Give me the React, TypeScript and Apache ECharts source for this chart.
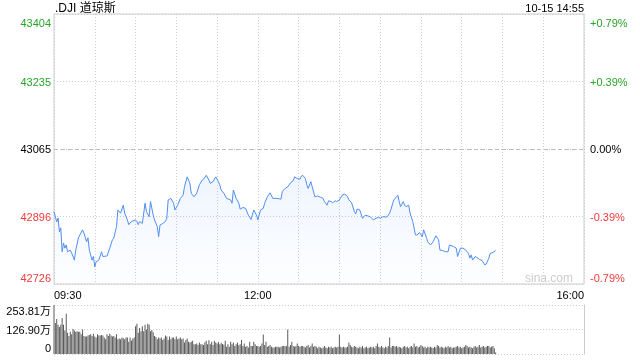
import React, { useEffect, useRef } from "react";
import * as echarts from "echarts";

const TITLE = ".DJI 道琼斯";
const DATE_TIME = "10-15 14:55";
const WATERMARK = "sina.com";
const PREV_CLOSE = 43065;
const PRICE_LOW = 42726;
const PRICE_HIGH = 43404;
const VOL_MAX = 253.81; // 万

const X_TICK_MINUTES = [0, 150, 390];
const X_TICK_LABELS = ["09:30", "12:00", "16:00"];
const PRICE_TICKS = ["42726", "42896", "43065", "43235", "43404"];
const PCT_TICKS = ["-0.79%", "-0.39%", "0.00%", "+0.39%", "+0.79%"];
const VOL_TICKS = ["0", "126.90万", "253.81万"];

// minutes since 09:30
const TIMES = [
  0, 2, 3, 4, 5, 6, 7, 8, 9, 10,
  12, 13, 15, 16, 18, 19, 21, 22, 24, 25,
  26, 28, 29, 30, 31, 33, 35, 36, 38, 39,
  41, 43, 44, 46, 47, 49, 51, 52, 54, 55,
  57, 60, 61, 62, 63, 65, 67, 68, 70, 71,
  73, 74, 76, 77, 78, 80, 82, 83, 84, 86,
  88, 89, 91, 93, 95, 96, 98, 100, 101, 103,
  105, 107, 109, 110, 112, 114, 115, 117, 119, 121,
  122, 123, 125, 127, 130, 131, 132, 134, 136, 137,
  139, 141, 143, 145, 147, 149, 150, 152, 154, 155,
  157, 159, 161, 164, 167, 168, 170, 172, 173, 174,
  176, 177, 179, 181, 182, 183, 185, 186, 187, 189,
  190, 192, 194, 196, 198, 199, 201, 202, 204, 205,
  207, 208, 210, 212, 214, 216, 217, 219, 221, 222,
  223, 225, 227, 229, 231, 233, 235, 237, 239, 240,
  242, 245, 247, 248, 250, 252, 253, 254, 255, 257,
  258, 259, 261, 262, 264, 266, 267, 269, 271, 272,
  274, 275, 277, 279, 281, 283, 284, 286, 288, 290,
  291, 294, 296, 297, 299, 301, 303, 305, 306, 307,
  308, 310, 311, 313, 315, 317, 318, 320, 321, 323,
  325,
];

const PRICES = [
  42908, 42882, 42892, 42857, 42867, 42807, 42829, 42816, 42824, 42807,
  42811, 42804, 42786, 42811, 42842, 42849, 42862, 42854, 42832, 42842,
  42811, 42786, 42795, 42769, 42782, 42786, 42807, 42795, 42796, 42796,
  42816, 42837, 42841, 42870, 42912, 42904, 42924, 42904, 42887, 42875,
  42883, 42887, 42883, 42875, 42883, 42878, 42929, 42908, 42895, 42933,
  42899, 42887, 42870, 42845, 42874, 42878, 42883, 42891, 42937, 42941,
  42929, 42912, 42924, 42941, 42949, 42970, 42995, 42979, 42954, 42945,
  42954, 42975, 42987, 42989, 42999, 42987, 42979, 42983, 42995, 42983,
  42975, 42962, 42954, 42941, 42937, 42929, 42962, 42941, 42929, 42914,
  42918, 42916, 42899, 42888, 42912, 42899, 42887, 42912, 42916, 42929,
  42945, 42955, 42941, 42941, 42939, 42958, 42966, 42970, 42975, 42980,
  42985, 42995, 42991, 42989, 42997, 42999, 42991, 42975, 42966, 42983,
  42970, 42945, 42947, 42944, 42941, 42933, 42924, 42935, 42933, 42930,
  42935, 42933, 42937, 42949, 42952, 42945, 42937, 42930, 42908, 42902,
  42914, 42912, 42891, 42899, 42897, 42894, 42887, 42891, 42894, 42891,
  42895, 42894, 42904, 42914, 42937, 42945, 42949, 42933, 42920, 42933,
  42924, 42920, 42924, 42904, 42883, 42849, 42849, 42855, 42845, 42862,
  42843, 42832, 42824, 42832, 42847, 42837, 42811, 42810, 42807, 42807,
  42824, 42820, 42816, 42795, 42816, 42816, 42811, 42803, 42791, 42799,
  42786, 42795, 42793, 42788, 42785, 42774, 42776, 42791, 42803, 42805,
  42810,
];

// volume per minute (万), index = minutes since 09:30
const VOLUMES = [
  254, 161, 181, 152, 140, 152, 186, 152, 122, 208,
  110, 93, 115, 102, 130, 122, 115, 118, 115, 115,
  102, 127, 93, 90, 90, 96, 98, 102, 93, 105,
  90, 85, 102, 96, 96, 99, 96, 85, 76, 102,
  93, 105, 96, 90, 93, 85, 102, 76, 80, 76,
  85, 82, 76, 85, 85, 63, 85, 70, 80, 85,
  144, 157, 110, 135, 118, 144, 118, 152, 127, 157,
  152, 118, 124, 113, 93, 88, 76, 85, 80, 85,
  73, 80, 96, 90, 73, 90, 76, 85, 85, 76,
  90, 76, 80, 85, 76, 80, 59, 73, 80, 63,
  59, 63, 68, 51, 51, 54, 46, 59, 51, 51,
  47, 59, 68, 51, 71, 51, 63, 46, 68, 60,
  55, 62, 50, 58, 52, 48, 68, 37, 51, 37,
  64, 51, 59, 42, 51, 59, 45, 51, 73, 42,
  54, 37, 42, 34, 64, 42, 42, 64, 51, 42,
  42, 37, 42, 54, 101, 47, 64, 37, 42, 47,
  37, 34, 34, 37, 37, 37, 34, 37, 42, 42,
  40, 42, 127, 37, 47, 64, 42, 37, 42, 54,
  42, 37, 42, 42, 37, 34, 42, 47, 34, 42,
  54, 37, 42, 37, 30, 37, 34, 30, 34, 42,
  34, 30, 37, 34, 37, 30, 34, 37, 34, 37,
  101, 37, 34, 37, 34, 34, 37, 59, 47, 37,
  34, 42, 37, 34, 30, 37, 34, 42, 30, 34,
  37, 30, 34, 37, 34, 37, 30, 42, 54, 37,
  34, 42, 34, 30, 37, 34, 42, 85, 34, 42,
  42, 37, 42, 34, 37, 34, 30, 37, 42, 34,
  37, 30, 37, 42, 34, 54, 37, 42, 34, 37,
  47, 42, 34, 37, 30, 37, 34, 37, 34, 30,
  37, 34, 47, 42, 34, 37, 34, 30, 37, 34,
  42, 34, 37, 30, 34, 34, 37, 42, 34, 37,
  30, 34, 37, 47, 42, 34, 37, 34, 30, 37,
  42, 34, 37, 47, 34, 37, 42, 34, 37, 42,
  42, 34, 37, 42, 30, 8,
];

const GREEN = "#28a428";
const RED = "#f03a3a";
const FONT = '"Liberation Sans", Arial, "Noto Sans CJK SC", sans-serif';

export default function App() {
  const ref = useRef<HTMLDivElement>(null);

  useEffect(() => {
    if (!ref.current) return;
    const chart = echarts.init(ref.current, null, { renderer: "svg" });

    const yMin = PRICE_LOW - PREV_CLOSE;
    const yMax = PRICE_HIGH - PREV_CLOSE;
    const yInt = (yMax - yMin) / 4;
    const volInt = VOL_MAX / 2;
    const priceKeys = ["b", "r", "k", "g", "t"];
    const volKeys = ["b", "k", "t"];

    const lineData = TIMES.map((t, i) => [t, PRICES[i] - PREV_CLOSE]);
    const volData = VOLUMES.map((v, i) => [i, v]);

    const dotted = { color: "#cfcfcf", type: [1, 2] as any, width: 1 };

    const option: any = {
      animation: false,
      textStyle: { fontFamily: FONT },
      grid: [
        { left: 54, top: 14, width: 530, height: 270, show: true, borderColor: "#cccccc", borderWidth: 1 },
        { left: 54, top: 305, width: 530, height: 49 },
      ],
      xAxis: [
        {
          gridIndex: 0,
          type: "value",
          min: 0,
          max: 390,
          interval: 30,
          axisLine: { show: false },
          axisTick: { show: false },
          splitLine: { show: true, lineStyle: dotted },
          axisLabel: {
            show: true,
            margin: 5,
            fontSize: 11,
            fontFamily: FONT,
            color: "#000",
            hideOverlap: false,
            showMinLabel: true,
            showMaxLabel: true,
            alignMinLabel: "left",
            alignMaxLabel: "right",
            formatter: (v: number) => {
              const idx = X_TICK_MINUTES.indexOf(Math.round(v));
              return idx >= 0 ? X_TICK_LABELS[idx] : "";
            },
          },
        },
        {
          gridIndex: 1,
          type: "value",
          min: 0,
          max: 390,
          interval: 30,
          axisLine: { show: false },
          axisTick: { show: false },
          splitLine: { show: false },
          axisLabel: { show: false },
        },
      ],
      yAxis: [
        {
          gridIndex: 0,
          type: "value",
          position: "left",
          min: yMin,
          max: yMax,
          interval: yInt,
          axisLine: { show: false },
          axisTick: { show: false },
          splitLine: { show: true, lineStyle: dotted },
          axisLabel: {
            margin: 3,
            fontSize: 11,
            fontFamily: FONT,
            formatter: (v: number) => {
              const i = Math.round((v - yMin) / yInt);
              return `{${priceKeys[i]}|${PRICE_TICKS[i]}}`;
            },
            rich: {
              b: { color: RED, fontSize: 11, fontFamily: FONT, padding: [0, 0, 13, 0] },
              r: { color: RED, fontSize: 11, fontFamily: FONT },
              k: { color: "#000", fontSize: 11, fontFamily: FONT },
              g: { color: GREEN, fontSize: 11, fontFamily: FONT },
              t: { color: GREEN, fontSize: 11, fontFamily: FONT, padding: [17, 0, 0, 0] },
            },
          },
        },
        {
          gridIndex: 0,
          type: "value",
          position: "right",
          min: yMin,
          max: yMax,
          interval: yInt,
          axisLine: { show: false },
          axisTick: { show: false },
          splitLine: { show: false },
          axisLabel: {
            margin: 6,
            fontSize: 11,
            fontFamily: FONT,
            formatter: (v: number) => {
              const i = Math.round((v - yMin) / yInt);
              return `{${priceKeys[i]}|${PCT_TICKS[i]}}`;
            },
            rich: {
              b: { color: RED, fontSize: 11, fontFamily: FONT, padding: [0, 0, 13, 0] },
              r: { color: RED, fontSize: 11, fontFamily: FONT },
              k: { color: "#000", fontSize: 11, fontFamily: FONT },
              g: { color: GREEN, fontSize: 11, fontFamily: FONT },
              t: { color: GREEN, fontSize: 11, fontFamily: FONT, padding: [17, 0, 0, 0] },
            },
          },
        },
        {
          gridIndex: 1,
          type: "value",
          position: "left",
          min: 0,
          max: VOL_MAX,
          interval: volInt,
          axisLine: { show: false },
          axisTick: { show: false },
          splitLine: { show: true, lineStyle: dotted },
          axisLabel: {
            margin: 3,
            fontSize: 11,
            fontFamily: FONT,
            formatter: (v: number) => {
              const i = Math.round(v / volInt);
              return `{${volKeys[i]}|${VOL_TICKS[i]}}`;
            },
            rich: {
              b: { color: "#000", fontSize: 11, fontFamily: FONT, padding: [0, 0, 12, 0] },
              k: { color: "#000", fontSize: 11, fontFamily: FONT },
              t: { color: "#000", fontSize: 11, fontFamily: FONT, padding: [12, 0, 0, 0] },
            },
          },
        },
        {
          gridIndex: 1,
          type: "value",
          position: "right",
          min: 0,
          max: VOL_MAX,
          interval: volInt,
          axisLine: { show: true, lineStyle: { color: "#cccccc", width: 1 } },
          axisTick: { show: false },
          splitLine: { show: false },
          axisLabel: { show: false },
        },
      ],
      series: [
        {
          type: "line",
          xAxisIndex: 0,
          yAxisIndex: 0,
          data: lineData,
          showSymbol: false,
          symbol: "none",
          lineStyle: { color: "#4f8ef5", width: 1 },
          areaStyle: {
            origin: "start",
            color: new echarts.graphic.LinearGradient(0, 0, 0, 1, [
              { offset: 0, color: "rgba(79,142,245,0.13)" },
              { offset: 1, color: "rgba(79,142,245,0.01)" },
            ]),
          },
          markLine: {
            silent: true,
            symbol: "none",
            label: { show: false },
            lineStyle: { color: "#bbbbbb", type: [4, 3], width: 1 },
            data: [{ yAxis: 0 }],
          },
          z: 3,
        },
        {
          type: "bar",
          xAxisIndex: 1,
          yAxisIndex: 2,
          data: volData,
          barWidth: 1,
          itemStyle: { color: "#5a5a5a" },
        },
      ],
      graphic: [
        {
          type: "text",
          left: 55,
          top: 2,
          style: { text: TITLE, font: `12px ${FONT}`, fill: "#000" },
          z: 10,
        },
        {
          type: "text",
          right: 56,
          top: 2,
          style: { text: DATE_TIME, font: `11px ${FONT}`, fill: "#000" },
          z: 10,
        },
        {
          type: "text",
          right: 67,
          top: 272,
          style: { text: WATERMARK, font: `12px ${FONT}`, fill: "#cccccc" },
          z: 10,
        },
      ],
    };

    chart.setOption(option);
    return () => chart.dispose();
  }, []);

  return (
    <div
      ref={ref}
      style={{ position: "fixed", left: 0, top: 0, width: 640, height: 360 }}
    />
  );
}
